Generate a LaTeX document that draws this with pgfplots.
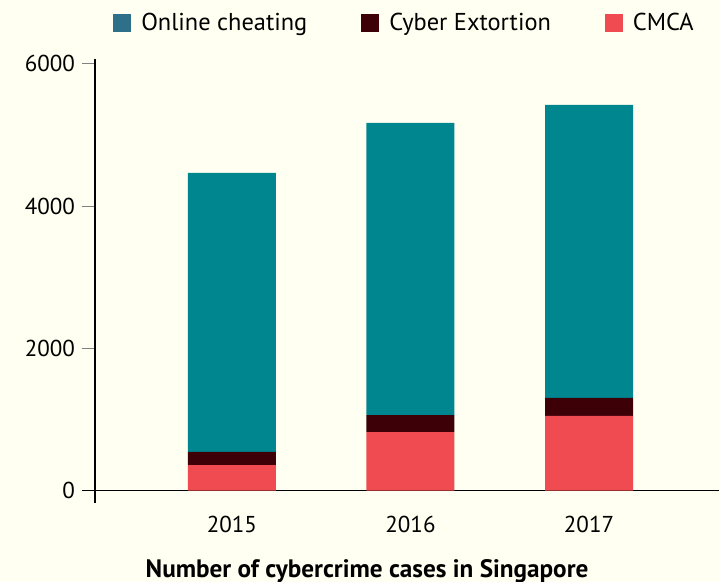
\documentclass[border=0pt]{standalone}
\usepackage{fontspec}
\setmainfont{PT Sans}
\usepackage{pgfplots}
\pgfplotsset{compat=1.18}
\definecolor{bgcol}{HTML}{FFFFF2}
\definecolor{tealbar}{HTML}{00868F}
\definecolor{teallegend}{HTML}{2E708A}
\definecolor{maroon}{HTML}{3D0006}
\definecolor{cmcared}{HTML}{EF4B51}

\begin{document}
\begin{tikzpicture}
\fill[bgcol] (-47.5pt,-39.5pt) rectangle (312pt,251.5pt);
\begin{axis}[
    scale only axis,
    width=312pt, height=222pt,
    xmin=-0.767, xmax=2.728,
    ymin=-174, ymax=6069,
    ybar stacked,
    bar width=44pt,
    axis y line*=left,
    axis x line*=bottom,
    x axis line style={draw=none},
    y axis line style={line width=0.6pt},
    xtick={0,1,2},
    xticklabels={2015,2016,2017},
    x tick style={draw=none},
    ytick={0,2000,4000,6000},
    y tick style={line width=0.6pt},
    tick align=outside,
    major tick length=6.5pt,
    /pgf/number format/1000 sep={},
    /pgf/number format/assume math mode=true,
    tick label style={font=\fontsize{11.5}{13}\selectfont},
    xticklabel style={yshift=3.5pt},
    clip=false,
    legend columns=3,
    legend style={at={(axis description cs:0.4976,1.081)}, anchor=center,
        draw=none, fill=none, font=\fontsize{12.2}{14}\selectfont,
        /tikz/every odd column/.append style={column sep=3pt},
        /tikz/every even column/.append style={column sep=25pt}},
    legend image code/.code={\path[#1] (0pt,-4.5pt) rectangle (9pt,4.5pt);},
]
\addplot[fill=cmcared, draw=none, forget plot] coordinates {(0,360) (1,824) (2,1050)};
\addplot[fill=maroon, draw=none, forget plot] coordinates {(0,183) (1,239) (2,253)};
\addplot[fill=tealbar, draw=none, forget plot] coordinates {(0,3923) (1,4106) (2,4121)};
\addlegendimage{fill=teallegend, draw=none}
\addlegendentry{Online cheating}
\addlegendimage{fill=maroon, draw=none}
\addlegendentry{Cyber Extortion}
\addlegendimage{fill=cmcared, draw=none}
\addlegendentry{CMCA}
\draw[line width=0.6pt] (axis cs:-0.84,0) -- (axis cs:2.728,0);
\node[font=\bfseries\fontsize{12.6}{14}\selectfont, yshift=-34pt]
    at (axis description cs:0.436,0) {Number of cybercrime cases in Singapore};
\end{axis}
\pgfresetboundingbox
\path (-47.5pt,-39.5pt) rectangle (312pt,251.5pt);
\end{tikzpicture}
\end{document}
